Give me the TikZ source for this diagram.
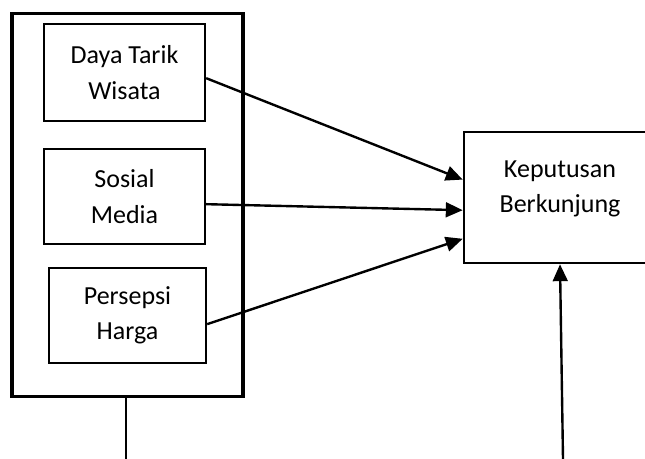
\documentclass[tikz,border=0pt]{standalone}
\usepackage{fontspec}
\setmainfont{Carlito}
\usetikzlibrary{arrows.meta,calc}

\begin{document}
\begin{tikzpicture}[x=0.025cm, y=-0.025cm,
  varbox/.style={draw, line width=1.6pt, align=center, inner sep=0pt},
  txt/.style={font=\fontsize{18.5}{25}\selectfont},
  link/.style={line width=1.7pt, -{Triangle[length=12pt,width=10.5pt]}}]
\useasboundingbox (0,0) rectangle (645,459);
% group box
\node (grp) at (127.5,205) [draw, line width=2.2pt, minimum width=5.775cm, minimum height=9.55cm]{};
% variable boxes
\node (dtw) at (124.5,72.5) [varbox, txt, minimum width=4.025cm, minimum height=2.425cm]{Daya Tarik\\Wisata};
\node (sm) at (124.5,196.5) [varbox, txt, minimum width=4.025cm, minimum height=2.375cm]{Sosial\\Media};
\node (ph) at (127.5,315.5) [varbox, txt, minimum width=3.925cm, minimum height=2.375cm]{Persepsi\\Harga};
% decision box
\node (kb) at (560,197.5) [draw, line width=1.8pt, minimum width=4.8cm, minimum height=3.275cm]{};
\node (kbt) at ($(kb.north)+(0,30)$) [anchor=north, inner sep=0pt, align=center, txt]{Keputusan\\Berkunjung};
% loose ends
\coordinate (gb) at (126,459);
\coordinate (kbb) at (563,459);
% arrows
\draw[link] ($(dtw.north east)!0.557!(dtw.south east)$) -- ($(kb.north west)!0.366!(kb.south west)$);
\draw[link] ($(sm.north east)!0.579!(sm.south east)$) -- ($(kb.north west)!0.595!(kb.south west)$);
\draw[link] ($(ph.north east)!0.589!(ph.south east)$) -- ($(kb.north west)!0.809!(kb.south west)$);
\draw[link] (kbb) -- (kb.south);
% lines
\draw[line width=0.9pt] (grp.south -| gb) -- (gb);
\end{tikzpicture}
\end{document}
